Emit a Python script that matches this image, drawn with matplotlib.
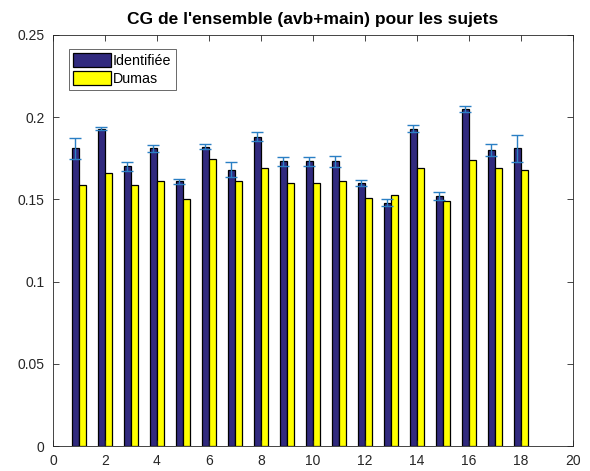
import numpy as np
import matplotlib
matplotlib.use('Agg')
import matplotlib.pyplot as plt

sujets = np.arange(1, 19)
identifiee = [0.181, 0.193, 0.170, 0.181, 0.161, 0.182, 0.168, 0.188, 0.173,
              0.173, 0.173, 0.160, 0.148, 0.193, 0.152, 0.205, 0.180, 0.181]
erreur = [0.0065, 0.001, 0.0025, 0.002, 0.0015, 0.0015, 0.0045, 0.0027, 0.0025,
          0.0025, 0.0035, 0.0018, 0.002, 0.002, 0.0025, 0.002, 0.0035, 0.0082]
dumas = [0.159, 0.166, 0.159, 0.161, 0.1505, 0.1745, 0.161, 0.169, 0.160,
         0.160, 0.161, 0.151, 0.1525, 0.169, 0.149, 0.174, 0.169, 0.168]

bleu = '#312a7e'
jaune = '#ffff00'
bleu_err = '#2a7fc4'

plt.rcParams['font.family'] = ['Liberation Sans', 'DejaVu Sans']
fig = plt.figure(figsize=(5.9, 4.71), dpi=100)
ax = fig.add_axes([0.0898, 0.053, 0.8814, 0.873])

dx = 0.143; w = 0.25
ax.bar(sujets - dx, identifiee, width=w, color=bleu, edgecolor='black', linewidth=0.9, label='Identifiée')
ax.bar(sujets + dx, dumas, width=w, color=jaune, edgecolor='black', linewidth=0.9, label='Dumas')
ax.errorbar(sujets - dx, identifiee, yerr=erreur, fmt='none', ecolor=bleu_err,
            elinewidth=1.0, capsize=4, capthick=1.0)

ax.set_xlim(0, 20)
ax.set_ylim(0, 0.25)
ax.set_xticks(np.arange(0, 21, 2))
ax.set_yticks([0, 0.05, 0.1, 0.15, 0.2, 0.25])
ax.set_yticklabels(['0', '0.05', '0.1', '0.15', '0.2', '0.25'])
ax.tick_params(direction='in', labelsize=10, colors='#262626', top=True, right=True,
               length=4, width=0.6, pad=6)
for s in ax.spines.values():
    s.set_linewidth(0.6)
    s.set_color('#262626')
ax.set_title("CG de l'ensemble (avb+main) pour les sujets", fontsize=12.5, fontweight='bold', pad=8)

leg = ax.legend(loc='upper left', bbox_to_anchor=(0.031, 0.966), fancybox=False,
                edgecolor='#262626', fontsize=10.3, handlelength=2.6, handleheight=1.1,
                borderpad=0.3, labelspacing=0.25, handletextpad=0.15, borderaxespad=0)
leg.get_frame().set_linewidth(0.6)

fig.savefig('out.png', dpi=100)
